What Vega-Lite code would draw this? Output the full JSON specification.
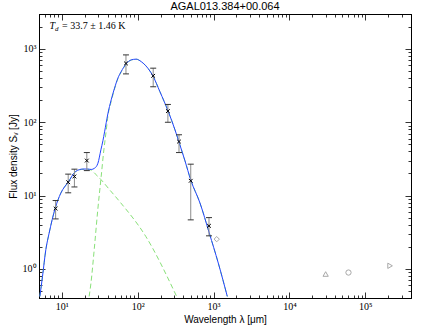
{
  "$schema": "https://vega.github.io/schema/vega-lite/v6.json",
  "width": 372,
  "height": 284,
  "autosize": "none",
  "padding": {"left": 39, "top": 14, "right": 13, "bottom": 31},
  "background": "white",
  "title": {"text": "AGAL013.384+00.064", "font": "Liberation Sans", "fontSize": 11, "fontWeight": "normal", "color": "black", "offset": -6, "dy": 8, "baseline": "bottom"},
  "config": {"view": {"stroke": "black", "strokeWidth": 1}, "axis": {"grid": false}},
  "datasets": {
    "blue": [
      {"lam": 5.13, "S": 0.42}, {"lam": 5.56, "S": 0.785}, {"lam": 6.15, "S": 1.82}, {"lam": 6.8, "S": 3.07},
      {"lam": 8.17, "S": 6.7}, {"lam": 9.7, "S": 10.8}, {"lam": 12.1, "S": 15.2}, {"lam": 15.3, "S": 21.4},
      {"lam": 19.0, "S": 23.0}, {"lam": 22.0, "S": 23.0}, {"lam": 24.4, "S": 22.7}, {"lam": 27.0, "S": 23.6},
      {"lam": 29.9, "S": 27.6}, {"lam": 32.7, "S": 42}, {"lam": 34.8, "S": 56}, {"lam": 36.6, "S": 74},
      {"lam": 40.4, "S": 130}, {"lam": 44.7, "S": 202}, {"lam": 49.5, "S": 292}, {"lam": 54.8, "S": 400},
      {"lam": 60.6, "S": 492}, {"lam": 70.5, "S": 626}, {"lam": 82.1, "S": 710}, {"lam": 95.5, "S": 726},
      {"lam": 111, "S": 673}, {"lam": 118, "S": 640}, {"lam": 160, "S": 421}, {"lam": 196, "S": 262},
      {"lam": 253, "S": 140}, {"lam": 310, "S": 78.7}, {"lam": 360, "S": 49}, {"lam": 420, "S": 29.7},
      {"lam": 499, "S": 16.4}, {"lam": 662, "S": 7.9}, {"lam": 878, "S": 3.07}, {"lam": 1153, "S": 1.2},
      {"lam": 1517, "S": 0.42}
    ],
    "warm": [
      {"lam": 5.13, "S": 0.42}, {"lam": 5.56, "S": 0.785}, {"lam": 6.15, "S": 1.82}, {"lam": 6.8, "S": 3.07},
      {"lam": 8.17, "S": 6.7}, {"lam": 9.7, "S": 10.8}, {"lam": 12.1, "S": 15.2}, {"lam": 15.3, "S": 21.3},
      {"lam": 19.0, "S": 22.8}, {"lam": 22.0, "S": 22.8}, {"lam": 24.4, "S": 22.3}, {"lam": 27.5, "S": 19.8},
      {"lam": 33.0, "S": 16.4}, {"lam": 42.6, "S": 12.0}, {"lam": 57.7, "S": 8.3}, {"lam": 128, "S": 2.76},
      {"lam": 326, "S": 0.42}
    ],
    "cold": [
      {"lam": 22.9, "S": 0.42}, {"lam": 24.2, "S": 0.64}, {"lam": 26.7, "S": 1.82}, {"lam": 29.9, "S": 6.7},
      {"lam": 33.0, "S": 18.2}, {"lam": 35.8, "S": 42}, {"lam": 38.4, "S": 76}, {"lam": 40.4, "S": 120},
      {"lam": 44.7, "S": 192}, {"lam": 49.5, "S": 285}, {"lam": 54.8, "S": 394}, {"lam": 60.6, "S": 486},
      {"lam": 70.5, "S": 620}, {"lam": 82.1, "S": 706}, {"lam": 95.5, "S": 724}, {"lam": 111, "S": 672},
      {"lam": 118, "S": 640}, {"lam": 160, "S": 421}, {"lam": 196, "S": 262}, {"lam": 253, "S": 140},
      {"lam": 310, "S": 78.7}, {"lam": 360, "S": 49}, {"lam": 420, "S": 29.7}, {"lam": 499, "S": 16.4},
      {"lam": 662, "S": 7.9}, {"lam": 878, "S": 3.07}, {"lam": 1153, "S": 1.2}, {"lam": 1517, "S": 0.42}
    ],
    "obs": [
      {"lam": 8.28, "S": 6.65, "lo": 4.8, "hi": 8.55},
      {"lam": 12.13, "S": 15.2, "lo": 10.9, "hi": 19.6},
      {"lam": 14.65, "S": 18.2, "lo": 13.1, "hi": 22.9},
      {"lam": 21.34, "S": 30, "lo": 21.9, "hi": 38.6},
      {"lam": 70, "S": 635, "lo": 457, "hi": 830},
      {"lam": 160, "S": 430, "lo": 305, "hi": 547},
      {"lam": 250, "S": 142, "lo": 100, "hi": 175},
      {"lam": 350, "S": 54.5, "lo": 38.6, "hi": 67.5},
      {"lam": 500, "S": 15.9, "lo": 4.66, "hi": 26.8},
      {"lam": 870, "S": 3.86, "lo": 2.82, "hi": 5.0}
    ],
    "other": [
      {"lam": 1100, "S": 2.54, "shape": "diamond"},
      {"lam": 30000, "S": 0.85, "shape": "triangle-up"},
      {"lam": 60000, "S": 0.89, "shape": "circle"},
      {"lam": 212000, "S": 1.1, "shape": "triangle-right"}
    ],
    "note": [{"lam": 6.9, "S": 2070}]
  },
  "layer": [
    {
      "data": {"name": "cold"},
      "mark": {"type": "line", "color": "#88e078", "strokeDash": [5, 3], "strokeWidth": 1, "clip": true, "interpolate": "monotone"},
      "encoding": {
        "x": {"field": "lam", "type": "quantitative", "scale": {"type": "log", "domain": [5, 400000], "nice": false},
          "axis": {"orient": "bottom", "grid": false,
            "values": [5,6,7,8,9,10,20,30,40,50,60,70,80,90,100,200,300,400,500,600,700,800,900,1000,2000,3000,4000,5000,6000,7000,8000,9000,10000,20000,30000,40000,50000,60000,70000,80000,90000,100000,200000,300000],
            "title": "Wavelength λ [μm]", "titleFont": "Liberation Sans", "titleFontSize": 10, "titleFontWeight": "normal", "titleColor": "black", "titlePadding": 0,
            "labelExpr": "abs(log(datum.value)/LN10 - round(log(datum.value)/LN10)) < 1e-6 ? '10' + ['⁰','¹','²','³','⁴','⁵'][round(log(datum.value)/LN10)] : ''",
            "labelFont": "Liberation Serif", "labelFontSize": 10, "labelColor": "black", "labelPadding": 9, "labelOverlap": false, "labelFlush": false, "labelBound": false,
            "tickSize": {"condition": {"test": "abs(log(datum.value)/LN10 - round(log(datum.value)/LN10)) < 1e-6", "value": -6}, "value": -3},
            "tickColor": "black", "tickWidth": 0.8, "domainColor": "black"}},
        "y": {"field": "S", "type": "quantitative", "scale": {"type": "log", "domain": [0.4, 3000], "nice": false},
          "axis": {"orient": "left", "grid": false,
            "values": [0.4,0.5,0.6,0.7,0.8,0.9,1,2,3,4,5,6,7,8,9,10,20,30,40,50,60,70,80,90,100,200,300,400,500,600,700,800,900,1000,2000,3000],
            "title": "Flux density Sᵥ [Jy]", "titleFont": "Liberation Sans", "titleFontSize": 10, "titleFontWeight": "normal", "titleColor": "black", "titlePadding": 4,
            "labelExpr": "abs(log(datum.value)/LN10 - round(log(datum.value)/LN10)) < 1e-6 ? '10' + ['⁰','¹','²','³','⁴','⁵'][round(log(datum.value)/LN10)] : ''",
            "labelFont": "Liberation Serif", "labelFontSize": 10, "labelColor": "black", "labelPadding": 9, "labelOverlap": false, "labelFlush": false, "labelBound": false,
            "tickSize": {"condition": {"test": "abs(log(datum.value)/LN10 - round(log(datum.value)/LN10)) < 1e-6", "value": -6}, "value": -3},
            "tickColor": "black", "tickWidth": 0.8, "domainColor": "black"}}
      }
    },
    {
      "data": {"name": "warm"},
      "mark": {"type": "line", "color": "#88e078", "strokeDash": [5, 3], "strokeWidth": 1, "clip": true, "interpolate": "monotone"},
      "encoding": {
        "x": {"field": "lam", "type": "quantitative", "scale": {"type": "log", "domain": [5, 400000], "nice": false},
          "axis": {"orient": "top", "grid": false, "labels": false, "title": null,
            "values": [5,6,7,8,9,10,20,30,40,50,60,70,80,90,100,200,300,400,500,600,700,800,900,1000,2000,3000,4000,5000,6000,7000,8000,9000,10000,20000,30000,40000,50000,60000,70000,80000,90000,100000,200000,300000],
            "tickSize": {"condition": {"test": "abs(log(datum.value)/LN10 - round(log(datum.value)/LN10)) < 1e-6", "value": -6}, "value": -3},
            "tickColor": "black", "tickWidth": 0.8, "domainColor": "black"}},
        "y": {"field": "S", "type": "quantitative", "scale": {"type": "log", "domain": [0.4, 3000], "nice": false},
          "axis": {"orient": "right", "grid": false, "labels": false, "title": null,
            "values": [0.4,0.5,0.6,0.7,0.8,0.9,1,2,3,4,5,6,7,8,9,10,20,30,40,50,60,70,80,90,100,200,300,400,500,600,700,800,900,1000,2000,3000],
            "tickSize": {"condition": {"test": "abs(log(datum.value)/LN10 - round(log(datum.value)/LN10)) < 1e-6", "value": -6}, "value": -3},
            "tickColor": "black", "tickWidth": 0.8, "domainColor": "black"}}
      }
    },
    {
      "data": {"name": "blue"},
      "mark": {"type": "line", "color": "#2244ff", "strokeWidth": 1, "clip": true, "interpolate": "monotone"},
      "encoding": {
        "x": {"field": "lam", "type": "quantitative", "scale": {"type": "log", "domain": [5, 400000], "nice": false}, "axis": null},
        "y": {"field": "S", "type": "quantitative", "scale": {"type": "log", "domain": [0.4, 3000], "nice": false}, "axis": null}
      }
    },
    {
      "data": {"name": "obs"},
      "mark": {"type": "rule", "color": "#8c8c8c", "strokeWidth": 1},
      "encoding": {
        "x": {"field": "lam", "type": "quantitative", "axis": null},
        "y": {"field": "lo", "type": "quantitative", "axis": null},
        "y2": {"field": "hi"}
      }
    },
    {
      "data": {"name": "obs"},
      "mark": {"type": "tick", "orient": "horizontal", "size": 6, "thickness": 1, "color": "#333333", "opacity": 1},
      "encoding": {
        "x": {"field": "lam", "type": "quantitative", "axis": null},
        "y": {"field": "lo", "type": "quantitative", "axis": null}
      }
    },
    {
      "data": {"name": "obs"},
      "mark": {"type": "tick", "orient": "horizontal", "size": 6, "thickness": 1, "color": "#333333", "opacity": 1},
      "encoding": {
        "x": {"field": "lam", "type": "quantitative", "axis": null},
        "y": {"field": "hi", "type": "quantitative", "axis": null}
      }
    },
    {
      "data": {"name": "obs"},
      "mark": {"type": "point", "shape": "M-1,-1L1,1M-1,1L1,-1", "filled": false, "stroke": "black", "strokeWidth": 1, "size": 14, "opacity": 1},
      "encoding": {
        "x": {"field": "lam", "type": "quantitative", "axis": null},
        "y": {"field": "S", "type": "quantitative", "axis": null}
      }
    },
    {
      "data": {"name": "other"},
      "mark": {"type": "point", "filled": false, "stroke": "#a8a8a8", "strokeWidth": 1, "size": 28, "opacity": 1},
      "encoding": {
        "x": {"field": "lam", "type": "quantitative", "axis": null},
        "y": {"field": "S", "type": "quantitative", "axis": null},
        "shape": {"field": "shape", "type": "nominal", "scale": null, "legend": null}
      }
    },
    {
      "data": {"name": "note"},
      "mark": {"type": "text", "text": "T", "font": "Liberation Serif", "fontStyle": "italic", "fontSize": 10, "align": "left", "baseline": "middle", "color": "black"},
      "encoding": {
        "x": {"field": "lam", "type": "quantitative", "axis": null},
        "y": {"field": "S", "type": "quantitative", "axis": null}
      }
    },
    {
      "data": {"name": "note"},
      "mark": {"type": "text", "text": "d", "font": "Liberation Serif", "fontStyle": "italic", "fontSize": 7, "align": "left", "baseline": "middle", "dx": 5.5, "dy": 3, "color": "black"},
      "encoding": {
        "x": {"field": "lam", "type": "quantitative", "axis": null},
        "y": {"field": "S", "type": "quantitative", "axis": null}
      }
    },
    {
      "data": {"name": "note"},
      "mark": {"type": "text", "text": "= 33.7 ± 1.46 K", "font": "Liberation Serif", "fontSize": 10, "align": "left", "baseline": "middle", "dx": 12.5, "color": "black"},
      "encoding": {
        "x": {"field": "lam", "type": "quantitative", "axis": null},
        "y": {"field": "S", "type": "quantitative", "axis": null}
      }
    }
  ],
  "resolve": {"axis": {"x": "independent", "y": "independent"}}
}
